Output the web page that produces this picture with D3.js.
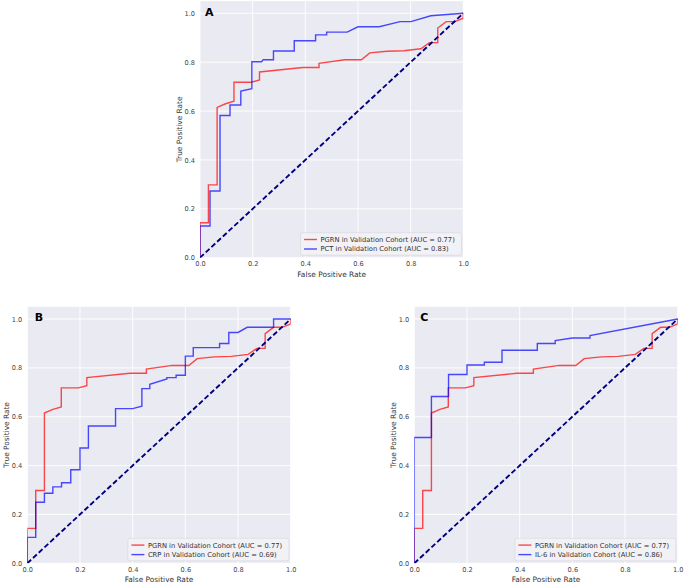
<!DOCTYPE html>
<html><head><meta charset="utf-8">
<script src="https://cdn.jsdelivr.net/npm/d3@7"></script>
<style>body{margin:0;background:#fff}svg{display:block}</style>
</head><body>
<svg id="fig" width="685" height="585"></svg>
<script>
const tickValues = [0, 0.2, 0.4, 0.6, 0.8, 1.0];
const tickLabels = ["0.0", "0.2", "0.4", "0.6", "0.8", "1.0"];
const panelLetters = ["A", "B", "C"];
const legendLabels = [
  ["PGRN in Validation Cohort (AUC = 0.77)", "PCT in Validation Cohort (AUC = 0.83)"],
  ["PGRN in Validation Cohort (AUC = 0.77)", "CRP in Validation Cohort (AUC = 0.69)"],
  ["PGRN in Validation Cohort (AUC = 0.77)", "IL-6 in Validation Cohort (AUC = 0.86)"]
];
const pgrnFpr = [0,0,0.032,0.032,0.065,0.065,0.097,0.129,0.129,0.194,0.226,0.226,0.39,0.452,0.452,0.55,0.613,0.645,0.71,0.774,0.839,0.871,0.903,0.903,0.935,0.968,1.0,1.0];
const pgrnTpr = [0,0.143,0.143,0.298,0.298,0.615,0.63,0.64,0.718,0.718,0.727,0.76,0.778,0.778,0.795,0.81,0.81,0.838,0.845,0.847,0.855,0.88,0.88,0.94,0.966,0.966,0.98,1.0];
const pctFpr = [0,0,0.038,0.038,0.076,0.076,0.114,0.114,0.155,0.155,0.197,0.197,0.234,0.24,0.279,0.279,0.358,0.358,0.439,0.439,0.481,0.481,0.559,0.6,0.681,0.76,0.801,0.877,1.0];
const pctTpr = [0,0.13,0.13,0.273,0.273,0.582,0.582,0.625,0.625,0.682,0.692,0.802,0.802,0.81,0.81,0.846,0.846,0.888,0.888,0.912,0.912,0.923,0.923,0.945,0.945,0.966,0.966,0.99,1.0];
const crpFpr = [0,0,0.032,0.032,0.065,0.065,0.097,0.097,0.13,0.13,0.165,0.165,0.2,0.2,0.232,0.232,0.335,0.335,0.4,0.435,0.435,0.465,0.465,0.53,0.53,0.565,0.565,0.6,0.6,0.63,0.63,0.73,0.73,0.765,0.765,0.8,0.835,0.935,0.935,1.0];
const crpTpr = [0,0.106,0.106,0.25,0.25,0.287,0.287,0.313,0.313,0.33,0.33,0.383,0.383,0.472,0.472,0.562,0.562,0.633,0.633,0.643,0.715,0.715,0.733,0.755,0.76,0.76,0.77,0.77,0.848,0.848,0.883,0.883,0.9,0.9,0.945,0.945,0.966,0.966,1.0,1.0];
const il6Fpr = [0,0,0.065,0.065,0.13,0.13,0.2,0.2,0.266,0.266,0.333,0.333,0.467,0.467,0.535,0.535,0.6,0.667,0.667,1.0];
const il6Tpr = [0,0.515,0.515,0.683,0.683,0.773,0.773,0.812,0.812,0.823,0.823,0.872,0.872,0.9,0.9,0.912,0.922,0.922,0.932,1.0];

const comparators = [[pctFpr, pctTpr], [crpFpr, crpTpr], [il6Fpr, il6Tpr]];
const panels = [
  {left: 200, right: 463.3, top: 1.1, bottom: 257.7, ylab: 179, letterDx: 5},
  {left: 27.3, right: 290.7, top: 306.8, bottom: 563.3, ylab: 6.5, letterDx: 7.5},
  {left: 414.3, right: 677.7, top: 306.8, bottom: 563.3, ylab: 393, letterDx: 6}
];
const RED = "rgba(255,0,0,0.7)", BLUE = "rgba(0,0,255,0.7)";
const FONT = "DejaVu Sans, sans-serif";
const svg = d3.select("#fig");

panels.forEach((p, i) => {
  const x = d3.scaleLinear().domain([0, 1]).range([p.left, p.right]);
  const y = d3.scaleLinear().domain([0, 1.05]).range([p.bottom, p.top]);
  const g = svg.append("g");
  g.append("rect").attr("x", p.left).attr("y", p.top)
    .attr("width", p.right - p.left).attr("height", p.bottom - p.top).attr("fill", "#EAEAF2");
  g.append("g").selectAll("line").data(tickValues).join("line")
    .attr("x1", d => x(d)).attr("x2", d => x(d)).attr("y1", p.top).attr("y2", p.bottom)
    .attr("stroke", "#fff").attr("stroke-width", 0.9);
  g.append("g").selectAll("line").data(tickValues).join("line")
    .attr("y1", d => y(d)).attr("y2", d => y(d)).attr("x1", p.left).attr("x2", p.right)
    .attr("stroke", "#fff").attr("stroke-width", 0.9);
  const xAxis = d3.axisBottom(x).tickValues(tickValues).tickFormat((d, k) => tickLabels[k]).tickSize(0).tickPadding(4);
  const yAxis = d3.axisLeft(y).tickValues(tickValues).tickFormat((d, k) => tickLabels[k]).tickSize(0).tickPadding(5);
  const gx = g.append("g").attr("transform", `translate(0,${p.bottom})`).call(xAxis);
  const gy = g.append("g").attr("transform", `translate(${p.left},0)`).call(yAxis);
  [gx, gy].forEach(a => {
    a.select(".domain").remove();
    a.selectAll("text").attr("font-family", FONT).attr("font-size", 6.6).attr("fill", "#444");
  });
  g.append("text").attr("x", (p.left + p.right) / 2).attr("y", p.bottom + 19)
    .attr("text-anchor", "middle").attr("font-family", FONT).attr("font-size", 7.4).attr("fill", "#333")
    .text("False Positive Rate");
  g.append("text").attr("transform", `translate(${p.ylab + 2.6},${(p.top + p.bottom) / 2}) rotate(-90)`)
    .attr("text-anchor", "middle").attr("font-family", FONT).attr("font-size", 7.4).attr("fill", "#333")
    .text("True Positive Rate");
  const line = d3.line().x(d => x(d[0])).y(d => y(d[1]));
  const clip = "clip" + i;
  g.append("clipPath").attr("id", clip).append("rect").attr("x", p.left).attr("y", p.top)
    .attr("width", p.right - p.left).attr("height", p.bottom - p.top);
  const curves = g.append("g").attr("clip-path", `url(#${clip})`);
  curves.append("path").datum(d3.zip(pgrnFpr, pgrnTpr)).attr("d", line)
    .attr("fill", "none").attr("stroke", RED).attr("stroke-width", 1.4);
  const [cf, ct] = comparators[i];
  curves.append("path").datum(d3.zip(cf, ct)).attr("d", line)
    .attr("fill", "none").attr("stroke", BLUE).attr("stroke-width", 1.4);
  curves.append("path").datum([[0, 0], [1, 1]]).attr("d", line)
    .attr("fill", "none").attr("stroke", "#000080").attr("stroke-width", 1.9).attr("stroke-dasharray", "5.2,2.6");
  g.append("text").attr("x", p.left + p.letterDx).attr("y", y(1.0) + 2.2)
    .attr("font-family", FONT).attr("font-weight", "bold").attr("font-size", 11).attr("fill", "#000")
    .text(panelLetters[i]);
  const lw = 161, lh = 22.5;
  const lx = p.right - 1.8 - lw, ly = p.bottom - 2.5 - lh;
  const lg = g.append("g");
  lg.append("rect").attr("x", lx).attr("y", ly).attr("width", lw).attr("height", lh).attr("rx", 2)
    .attr("fill", "rgba(242,242,247,0.85)").attr("stroke", "#D5D5DD").attr("stroke-width", 0.6);
  [RED, BLUE].forEach((c, k) => {
    const ry = ly + 6.8 + k * 9.5;
    lg.append("line").attr("x1", lx + 3.5).attr("x2", lx + 16.5).attr("y1", ry).attr("y2", ry)
      .attr("stroke", c).attr("stroke-width", 1.4);
    lg.append("text").attr("x", lx + 20).attr("y", ry + 2.4)
      .attr("font-family", FONT).attr("font-size", 6.75).attr("fill", "#333")
      .text(legendLabels[i][k]);
  });
});
</script>
</body></html>
